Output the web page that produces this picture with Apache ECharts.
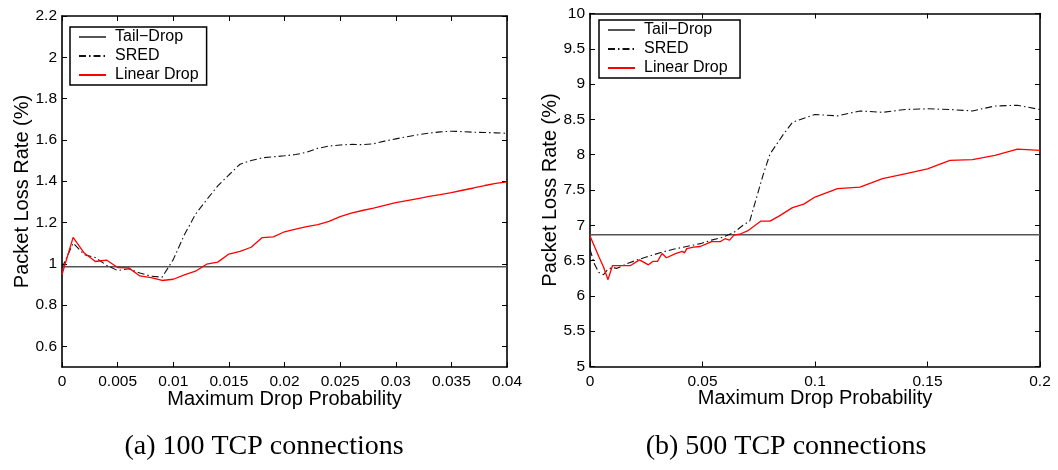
<!DOCTYPE html>
<html>
<head>
<meta charset="utf-8">
<script src="https://cdn.jsdelivr.net/npm/echarts@6/dist/echarts.min.js"></script>
<style>
  html, body { margin: 0; padding: 0; background: #fff; }
  #chart { width: 1058px; height: 470px; }
</style>
</head>
<body>
<div id="chart"></div>
<script>
// ---- (a) 100 TCP connections ----
const probA = [0, 0.001, 0.002, 0.003, 0.004, 0.005, 0.006, 0.007, 0.008, 0.009,
  0.010, 0.011, 0.012, 0.013, 0.014, 0.015, 0.016, 0.017, 0.018, 0.019,
  0.020, 0.021, 0.022, 0.023, 0.024, 0.025, 0.026, 0.027, 0.028, 0.029,
  0.030, 0.031, 0.032, 0.033, 0.034, 0.035, 0.036, 0.037, 0.038, 0.039, 0.040];
const sredA = [0.98, 1.10, 1.044, 1.03, 0.993, 0.967, 0.976, 0.955, 0.94, 0.935,
  1.02, 1.14, 1.24, 1.31, 1.377, 1.43, 1.482, 1.50, 1.513, 1.518,
  1.523, 1.529, 1.54, 1.559, 1.57, 1.575, 1.578, 1.577, 1.581, 1.594,
  1.605, 1.615, 1.625, 1.633, 1.639, 1.642, 1.64, 1.637, 1.636, 1.634, 1.632];
const linearA = [0.948, 1.128, 1.052, 1.011, 1.018, 0.982, 0.980, 0.941, 0.933, 0.919,
  0.925, 0.946, 0.964, 0.998, 1.008, 1.047, 1.06, 1.08, 1.127, 1.13,
  1.155, 1.168, 1.18, 1.19, 1.205, 1.228, 1.245, 1.258, 1.27, 1.283,
  1.296, 1.306, 1.316, 1.326, 1.335, 1.345, 1.356, 1.367, 1.379, 1.389, 1.397];
const tailDropA = 0.985;
const xTicksA = ['0', '0.005', '0.01', '0.015', '0.02', '0.025', '0.03', '0.035', '0.04'];
const yTicksA = ['0.6', '0.8', '1', '1.2', '1.4', '1.6', '1.8', '2', '2.2'];

// ---- (b) 500 TCP connections ----
const sredProbB = [0, 0.002, 0.004, 0.006, 0.008, 0.010, 0.012, 0.016, 0.021, 0.025,
  0.032, 0.037, 0.043, 0.049, 0.054, 0.059, 0.064, 0.068, 0.071, 0.074,
  0.077, 0.080, 0.086, 0.090, 0.100, 0.110, 0.120, 0.130, 0.140, 0.150,
  0.160, 0.170, 0.180, 0.190, 0.200];
const sredB = [6.66, 6.45, 6.33, 6.30, 6.38, 6.40, 6.39, 6.45, 6.51, 6.55,
  6.62, 6.66, 6.70, 6.74, 6.79, 6.83, 6.90, 7.00, 7.06, 7.39,
  7.72, 8.01, 8.29, 8.46, 8.57, 8.55, 8.62, 8.60, 8.64, 8.65,
  8.64, 8.62, 8.69, 8.70, 8.64];
const linearProbB = [0, 0.004, 0.006, 0.008, 0.010, 0.018, 0.022, 0.026, 0.028, 0.030,
  0.032, 0.034, 0.038, 0.041, 0.042, 0.043, 0.046, 0.049, 0.052, 0.054,
  0.058, 0.060, 0.062, 0.064, 0.067, 0.070, 0.073, 0.076, 0.080, 0.084,
  0.090, 0.095, 0.100, 0.110, 0.120, 0.130, 0.140, 0.150, 0.160, 0.170,
  0.180, 0.190, 0.200];
const linearB = [6.85, 6.55, 6.41, 6.23, 6.43, 6.43, 6.51, 6.44, 6.49, 6.49,
  6.60, 6.54, 6.60, 6.63, 6.61, 6.67, 6.69, 6.70, 6.74, 6.77,
  6.77, 6.81, 6.79, 6.86, 6.88, 6.92, 6.99, 7.06, 7.06, 7.13,
  7.25, 7.30, 7.40, 7.52, 7.54, 7.66, 7.73, 7.80, 7.92, 7.93,
  7.99, 8.08, 8.06];
const tailDropB = 6.865;
const xTicksB = ['0', '0.05', '0.1', '0.15', '0.2'];
const yTicksB = ['5', '5.5', '6', '6.5', '7', '7.5', '8', '8.5', '9', '9.5', '10'];

const seriesNames = ['Tail\u2212Drop', 'SRED', 'Linear Drop'];
const captions = ['(a) 100 TCP connections', '(b) 500 TCP connections'];
const xTitle = 'Maximum Drop Probability';
const yTitle = 'Packet Loss Rate (%)';

const FONT = 'Liberation Sans, Arial, Helvetica, sans-serif';
const SERIF = '28px "Liberation Serif", "Times New Roman", serif';
const zip = (xs, ys) => xs.map((x, i) => [x, ys[i]]);

const frameLine = { show: true, onZero: false, lineStyle: { color: '#000', width: 1.6 } };
const tickStyle = { color: '#000', width: 1 };

function bottomX(gridIndex, range, ticks) {
  const vals = ticks.map(Number);
  return {
    type: 'value', gridIndex, position: 'bottom', min: range[0], max: range[1],
    axisLine: frameLine,
    axisTick: { show: true, inside: true, length: 5, customValues: vals, lineStyle: tickStyle },
    axisLabel: { show: true, customValues: vals, formatter: v => ticks[vals.indexOf(v)] ?? String(v),
      color: '#000', fontFamily: FONT, fontSize: 15.5, margin: 7 },
    splitLine: { show: false },
    name: xTitle, nameLocation: 'middle', nameGap: 22, nameMoveOverlap: false,
    nameTextStyle: { color: '#000', fontFamily: FONT, fontSize: 20, verticalAlign: 'top' }
  };
}
function topX(gridIndex, range, ticks) {
  const vals = ticks.map(Number);
  return {
    type: 'value', gridIndex, position: 'top', min: range[0], max: range[1],
    axisLine: frameLine,
    axisTick: { show: true, inside: true, length: 5, customValues: vals, lineStyle: tickStyle },
    axisLabel: { show: false }, splitLine: { show: false }
  };
}
function leftY(gridIndex, range, ticks) {
  const vals = ticks.map(Number);
  return {
    type: 'value', gridIndex, position: 'left', min: range[0], max: range[1],
    axisLine: frameLine,
    axisTick: { show: true, inside: true, length: 5, customValues: vals, lineStyle: tickStyle },
    axisLabel: { show: true, customValues: vals, formatter: v => ticks[vals.indexOf(v)] ?? String(v),
      color: '#000', fontFamily: FONT, fontSize: 15.5, margin: 5 },
    splitLine: { show: false },
    name: yTitle, nameLocation: 'middle', nameGap: 30, nameMoveOverlap: false,
    nameTextStyle: { color: '#000', fontFamily: FONT, fontSize: 20 }
  };
}
function rightY(gridIndex, range, ticks) {
  const vals = ticks.map(Number);
  return {
    type: 'value', gridIndex, position: 'right', min: range[0], max: range[1],
    axisLine: frameLine,
    axisTick: { show: true, inside: true, length: 5, customValues: vals, lineStyle: tickStyle },
    axisLabel: { show: false }, splitLine: { show: false }
  };
}

function lineSeries(name, xAxisIndex, yAxisIndex, data, style) {
  return {
    name, type: 'line', xAxisIndex, yAxisIndex, data,
    symbol: 'none', showSymbol: false, smooth: false, animation: false,
    color: style.color, itemStyle: { color: style.color },
    lineStyle: style, silent: true
  };
}

const tailStyle = { color: '#555', width: 1.5, type: 'solid' };
const sredStyle = { color: '#111', width: 1.1, type: [7, 3, 1.5, 3] };
const linearStyle = { color: '#ff0000', width: 1.3, type: 'solid' };

function legendFor(left, top, suffix) {
  return {
    left, top, orient: 'vertical', itemWidth: 27, itemHeight: 12, itemGap: 3,
    padding: [2, 8, 2, 8], borderColor: '#000', borderWidth: 1.5, backgroundColor: '#fff',
    itemStyle: { opacity: 0 },
    textStyle: { color: '#000', fontFamily: FONT, fontSize: 16, lineHeight: 16, padding: [0, 0, 0, 4] },
    selectedMode: false,
    data: seriesNames.map(n => ({ name: n + suffix }))
  };
}

const chart = echarts.init(document.getElementById('chart'), null, { renderer: 'canvas' });

const option = {
  backgroundColor: '#fff',
  animation: false,
  grid: [
    { left: 62, top: 16, width: 445, height: 351 },
    { left: 590, top: 13.5, width: 450, height: 353 }
  ],
  xAxis: [
    bottomX(0, [0, 0.04], xTicksA), topX(0, [0, 0.04], xTicksA),
    bottomX(1, [0, 0.2], xTicksB), topX(1, [0, 0.2], xTicksB)
  ],
  yAxis: [
    leftY(0, [0.5, 2.2], yTicksA), rightY(0, [0.5, 2.2], yTicksA),
    leftY(1, [5, 10], yTicksB), rightY(1, [5, 10], yTicksB)
  ],
  legend: [legendFor(70, 27, ''), legendFor(599, 20, ' ')],
  series: [
    lineSeries(seriesNames[0], 0, 0, [[0, tailDropA], [0.04, tailDropA]], tailStyle),
    lineSeries(seriesNames[1], 0, 0, zip(probA, sredA), sredStyle),
    lineSeries(seriesNames[2], 0, 0, zip(probA, linearA), linearStyle),
    lineSeries(seriesNames[0] + ' ', 2, 2, [[0, tailDropB], [0.2, tailDropB]], tailStyle),
    lineSeries(seriesNames[1] + ' ', 2, 2, zip(sredProbB, sredB), sredStyle),
    lineSeries(seriesNames[2] + ' ', 2, 2, zip(linearProbB, linearB), linearStyle)
  ],
  graphic: [
    { type: 'text', x: 264, y: 447, style: { text: captions[0], fill: '#000',
      font: SERIF, align: 'center', verticalAlign: 'middle' } },
    { type: 'text', x: 786, y: 447, style: { text: captions[1], fill: '#000',
      font: SERIF, align: 'center', verticalAlign: 'middle' } }
  ]
};
chart.setOption(option);
</script>
</body>
</html>
